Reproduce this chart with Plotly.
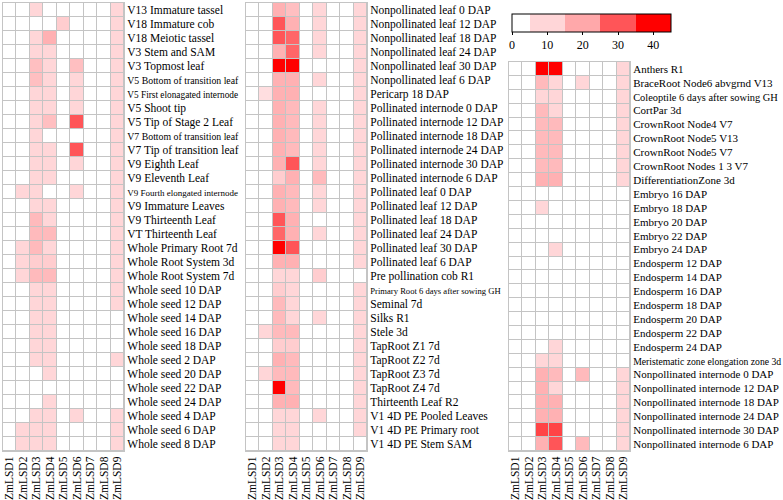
import plotly.graph_objects as go

genes = ["ZmLSD1", "ZmLSD2", "ZmLSD3", "ZmLSD4", "ZmLSD5", "ZmLSD6", "ZmLSD7", "ZmLSD8", "ZmLSD9"]

labels1 = ["V13 Immature tassel", "V18 Immature cob", "V18 Meiotic tassel", "V3 Stem and SAM",
           "V3 Topmost leaf", "V5 Bottom of transition leaf", "V5 First elonagated internode",
           "V5 Shoot tip", "V5 Tip of Stage 2 Leaf", "V7 Bottom of transition leaf",
           "V7 Tip of transition leaf", "V9 Eighth Leaf", "V9 Eleventh Leaf",
           "V9 Fourth elongated internode", "V9 Immature Leaves", "V9 Thirteenth Leaf",
           "VT Thirteenth Leaf", "Whole Primary Root 7d", "Whole Root System 3d",
           "Whole Root System 7d", "Whole seed 10 DAP", "Whole seed 12 DAP", "Whole seed 14 DAP",
           "Whole seed 16 DAP", "Whole seed 18 DAP", "Whole seed 2 DAP", "Whole seed 20 DAP",
           "Whole seed 22 DAP", "Whole seed 24 DAP", "Whole seed 4 DAP", "Whole seed 6 DAP",
           "Whole seed 8 DAP"]
values1 = [
    [0, 0, 10, 0, 0, 0, 0, 0, 10],
    [0, 0, 0, 0, 12, 0, 0, 0, 10],
    [0, 0, 10, 18, 0, 0, 0, 0, 10],
    [0, 0, 10, 10, 0, 0, 0, 0, 10],
    [0, 0, 15, 10, 0, 15, 0, 0, 10],
    [0, 0, 15, 10, 0, 10, 0, 0, 10],
    [0, 0, 10, 10, 0, 10, 0, 0, 10],
    [0, 0, 10, 10, 0, 10, 0, 0, 10],
    [0, 0, 10, 15, 0, 30, 0, 0, 10],
    [0, 0, 10, 0, 0, 0, 0, 0, 10],
    [0, 0, 10, 10, 0, 30, 0, 0, 10],
    [0, 0, 10, 10, 0, 10, 0, 0, 10],
    [0, 0, 10, 10, 0, 0, 0, 0, 10],
    [0, 10, 10, 0, 0, 10, 0, 0, 10],
    [0, 0, 10, 10, 0, 0, 0, 0, 10],
    [0, 0, 16, 10, 0, 0, 0, 0, 10],
    [0, 0, 16, 16, 0, 0, 0, 0, 10],
    [0, 10, 16, 10, 0, 0, 0, 0, 10],
    [0, 10, 12, 12, 0, 0, 0, 0, 10],
    [0, 10, 16, 16, 0, 0, 0, 0, 10],
    [0, 0, 10, 10, 0, 0, 0, 0, 10],
    [0, 0, 10, 10, 0, 0, 0, 0, 10],
    [0, 0, 10, 10, 0, 0, 0, 0, 0],
    [0, 0, 10, 10, 0, 0, 0, 0, 0],
    [0, 0, 10, 10, 0, 0, 0, 0, 0],
    [0, 0, 10, 10, 0, 0, 0, 0, 10],
    [0, 0, 0, 10, 0, 0, 0, 0, 0],
    [0, 0, 0, 0, 0, 0, 0, 0, 0],
    [0, 0, 0, 10, 0, 0, 0, 0, 0],
    [0, 0, 10, 10, 0, 10, 0, 0, 10],
    [0, 10, 10, 10, 0, 0, 0, 0, 10],
    [0, 10, 10, 10, 0, 0, 0, 0, 10],
]

labels2 = ["Nonpollinated leaf 0 DAP", "Nonpollinated leaf 12 DAP", "Nonpollinated leaf 18 DAP",
           "Nonpollinated leaf 24 DAP", "Nonpollinated leaf 30 DAP", "Nonpollinated leaf 6 DAP",
           "Pericarp 18 DAP", "Pollinated internode 0 DAP", "Pollinated internode 12 DAP",
           "Pollinated internode 18 DAP", "Pollinated internode 24 DAP", "Pollinated internode 30 DAP",
           "Pollinated internode 6 DAP", "Pollinated leaf 0 DAP", "Pollinated leaf 12 DAP",
           "Pollinated leaf 18 DAP", "Pollinated leaf 24 DAP", "Pollinated leaf 30 DAP",
           "Pollinated leaf 6 DAP", "Pre pollination cob R1", "Primary Root 6 days after sowing GH",
           "Seminal 7d", "Silks R1", "Stele 3d", "TapRoot Z1 7d", "TapRoot Z2 7d", "TapRoot Z3 7d",
           "TapRoot Z4 7d", "Thirteenth Leaf R2", "V1 4D PE Pooled Leaves", "V1 4D PE Primary root",
           "V1 4D PE Stem SAM"]
values2 = [
    [0, 0, 18, 15, 0, 10, 0, 0, 10],
    [0, 0, 30, 18, 0, 10, 0, 0, 10],
    [0, 0, 30, 28, 0, 10, 0, 0, 10],
    [0, 0, 18, 28, 0, 10, 0, 0, 10],
    [0, 0, 42, 42, 0, 0, 0, 0, 10],
    [0, 0, 18, 18, 0, 10, 0, 0, 10],
    [0, 8, 18, 18, 0, 0, 0, 0, 10],
    [0, 0, 18, 16, 0, 10, 0, 0, 10],
    [0, 0, 18, 16, 0, 10, 0, 0, 10],
    [0, 0, 18, 16, 0, 10, 0, 0, 10],
    [0, 0, 18, 16, 0, 10, 0, 0, 10],
    [0, 0, 18, 30, 0, 10, 0, 0, 10],
    [0, 0, 12, 18, 0, 16, 0, 0, 10],
    [0, 0, 18, 16, 0, 10, 0, 0, 10],
    [0, 0, 18, 16, 0, 10, 0, 0, 10],
    [0, 0, 30, 18, 0, 0, 0, 0, 10],
    [0, 0, 28, 18, 0, 10, 0, 0, 10],
    [0, 0, 40, 30, 0, 0, 0, 0, 10],
    [0, 0, 18, 18, 0, 0, 0, 0, 10],
    [0, 0, 10, 10, 0, 12, 0, 0, 0],
    [0, 0, 12, 10, 0, 0, 0, 0, 10],
    [0, 0, 16, 10, 0, 0, 0, 0, 10],
    [0, 0, 16, 10, 0, 10, 0, 0, 10],
    [0, 10, 16, 16, 0, 0, 0, 0, 10],
    [0, 0, 12, 12, 0, 0, 0, 0, 10],
    [0, 0, 18, 16, 0, 0, 0, 0, 10],
    [0, 10, 16, 16, 0, 0, 0, 0, 10],
    [0, 0, 42, 16, 0, 0, 0, 0, 10],
    [0, 0, 18, 18, 0, 0, 0, 0, 10],
    [0, 0, 10, 10, 0, 10, 0, 0, 10],
    [0, 0, 10, 10, 0, 0, 0, 0, 10],
    [0, 0, 10, 10, 0, 0, 0, 0, 0],
]

labels3 = ["Anthers R1", "BraceRoot Node6 abvgrnd V13", "Coleoptile 6 days after sowing GH",
           "CortPar 3d", "CrownRoot Node4 V7", "CrownRoot Node5 V13", "CrownRoot Node5 V7",
           "CrownRoot Nodes 1 3 V7", "DifferentiationZone 3d", "Embryo 16 DAP", "Embryo 18 DAP",
           "Embryo 20 DAP", "Embryo 22 DAP", "Embryo 24 DAP", "Endosperm 12 DAP", "Endosperm 14 DAP",
           "Endosperm 16 DAP", "Endosperm 18 DAP", "Endosperm 20 DAP", "Endosperm 22 DAP",
           "Endosperm 24 DAP", "Meristematic zone elongation zone 3d", "Nonpollinated internode 0 DAP",
           "Nonpollinated internode 12 DAP", "Nonpollinated internode 18 DAP",
           "Nonpollinated internode 24 DAP", "Nonpollinated internode 30 DAP",
           "Nonpollinated internode 6 DAP"]
values3 = [
    [0, 0, 42, 42, 0, 0, 0, 0, 10],
    [0, 0, 16, 10, 0, 10, 0, 0, 10],
    [0, 0, 10, 10, 0, 0, 0, 0, 10],
    [0, 0, 16, 10, 0, 0, 0, 0, 10],
    [0, 0, 16, 16, 0, 0, 0, 0, 10],
    [0, 0, 16, 16, 0, 0, 0, 0, 10],
    [0, 0, 16, 16, 0, 0, 0, 0, 10],
    [0, 0, 16, 16, 0, 0, 0, 0, 10],
    [0, 0, 18, 18, 0, 0, 0, 0, 10],
    [0, 0, 0, 0, 0, 0, 0, 0, 0],
    [0, 0, 10, 0, 0, 0, 0, 0, 0],
    [0, 0, 0, 0, 0, 0, 0, 0, 0],
    [0, 0, 0, 0, 0, 0, 0, 0, 0],
    [0, 0, 0, 10, 0, 0, 0, 0, 0],
    [0, 0, 0, 0, 0, 0, 0, 0, 0],
    [0, 0, 0, 0, 0, 0, 0, 0, 0],
    [0, 0, 0, 0, 0, 0, 0, 0, 0],
    [0, 0, 0, 0, 0, 0, 0, 0, 0],
    [0, 0, 0, 0, 0, 0, 0, 0, 0],
    [0, 0, 0, 0, 0, 0, 0, 0, 0],
    [0, 0, 0, 10, 0, 0, 0, 0, 0],
    [0, 0, 10, 10, 0, 0, 0, 0, 0],
    [0, 0, 18, 16, 0, 16, 0, 0, 10],
    [0, 0, 18, 10, 0, 0, 0, 0, 10],
    [0, 0, 18, 18, 0, 0, 0, 0, 10],
    [0, 0, 18, 18, 0, 0, 0, 0, 10],
    [0, 0, 32, 32, 0, 0, 0, 0, 10],
    [0, 0, 18, 30, 0, 16, 0, 0, 10],
]

colorbar_ticks = [0, 10, 20, 30, 40]

# ---- styling ----
FONT = "Liberation Serif, Times New Roman, serif"
label_sizes = [11.5, 11.5, 11]
small_label_sizes = {
    "V5 Bottom of transition leaf": 9.8,
    "V5 First elonagated internode": 9.3,
    "V7 Bottom of transition leaf": 9.8,
    "V9 Fourth elongated internode": 9.0,
    "Primary Root 6 days after sowing GH": 8.6,
    "Meristematic zone elongation zone 3d": 9.7,
    "Coleoptile 6 days after sowing GH": 10.4,
}

def tick_text(lbls):
    out = []
    for s in lbls:
        if s in small_label_sizes:
            out.append('<span style="font-size:%spx">%s</span>' % (small_label_sizes[s], s))
        else:
            out.append(s)
    return out

cont_scale = [[0, "#ffffff"], [10 / 45, "#ffd6d8"], [20 / 45, "#ffa8aa"],
              [30 / 45, "#ff5558"], [40 / 45, "#ff0000"], [1, "#ff0000"]]
band_scale = [[0, "#ffffff"], [5 / 45, "#ffffff"], [5 / 45, "#ffd6d8"], [15 / 45, "#ffd6d8"],
              [15 / 45, "#ffa8aa"], [25 / 45, "#ffa8aa"], [25 / 45, "#ff5558"], [35 / 45, "#ff5558"],
              [35 / 45, "#ff0000"], [1, "#ff0000"]]

W, H = 783, 500
panels = [
    (labels1, values1, (3, 124), (3, 451)),
    (labels2, values2, (246, 367), (3, 451)),
    (labels3, values3, (509, 630), (62, 451)),
]

fig = go.Figure()
GRID = "#c4c4c4"
for i, (lbls, vals, (x0, x1), (y0, y1)) in enumerate(panels):
    n = i + 1
    xa = "x" if n == 1 else "x%d" % n
    ya = "y" if n == 1 else "y%d" % n
    fig.add_trace(go.Heatmap(z=vals, x=genes, y=lbls, xaxis=xa, yaxis=ya,
                             coloraxis="coloraxis", xgap=1, ygap=1, hoverinfo="skip"))
    xkey = "xaxis" if n == 1 else "xaxis%d" % n
    ykey = "yaxis" if n == 1 else "yaxis%d" % n
    fig.update_layout(**{
        xkey: dict(domain=[x0 / W, x1 / W], anchor=ya, tickangle=-90, showgrid=False,
                   zeroline=False, showline=True, linecolor=GRID, linewidth=1, mirror=True,
                   tickmode="array", tickvals=genes, ticktext=genes,
                   tickfont=dict(family=FONT, size=11.5, color="black"), ticks="",
                   automargin=False, fixedrange=True),
        ykey: dict(domain=[1 - y1 / H, 1 - y0 / H], anchor=xa, side="right",
                   autorange="reversed", showgrid=False, zeroline=False, showline=True,
                   linecolor=GRID, linewidth=1, mirror=True, ticks="",
                   tickmode="array", tickvals=lbls, ticktext=tick_text(lbls),
                   tickfont=dict(family=FONT, size=label_sizes[i], color="black"),
                   automargin=False, fixedrange=True),
    })

# dummy trace carrying the banded colour bar
fig.add_trace(go.Scatter(x=[None], y=[None], mode="markers", xaxis="x", yaxis="y",
                         marker=dict(color=[0], coloraxis="coloraxis2"), hoverinfo="skip",
                         showlegend=False))

fig.update_layout(
    width=W, height=H, margin=dict(l=0, r=0, t=0, b=0, autoexpand=False),
    paper_bgcolor="white", plot_bgcolor=GRID, showlegend=False,
    font=dict(family=FONT, size=12, color="black"),
    coloraxis=dict(colorscale=cont_scale, cmin=0, cmax=45, showscale=False),
    coloraxis2=dict(colorscale=band_scale, cmin=0, cmax=45, showscale=True,
                    colorbar=dict(orientation="h", x=(512 + 671) / 2 / W, xanchor="center",
                                  y=1 - 14 / H, yanchor="top", len=159 / W, lenmode="fraction",
                                  thickness=18, thicknessmode="pixels",
                                  outlinewidth=1, outlinecolor="black",
                                  tickmode="array", tickvals=colorbar_ticks,
                                  ticks="outside", ticklen=3, tickcolor="black",
                                  tickfont=dict(family=FONT, size=12, color="black"),
                                  xpad=0, ypad=0)),
)

fig.write_html("out.html")
